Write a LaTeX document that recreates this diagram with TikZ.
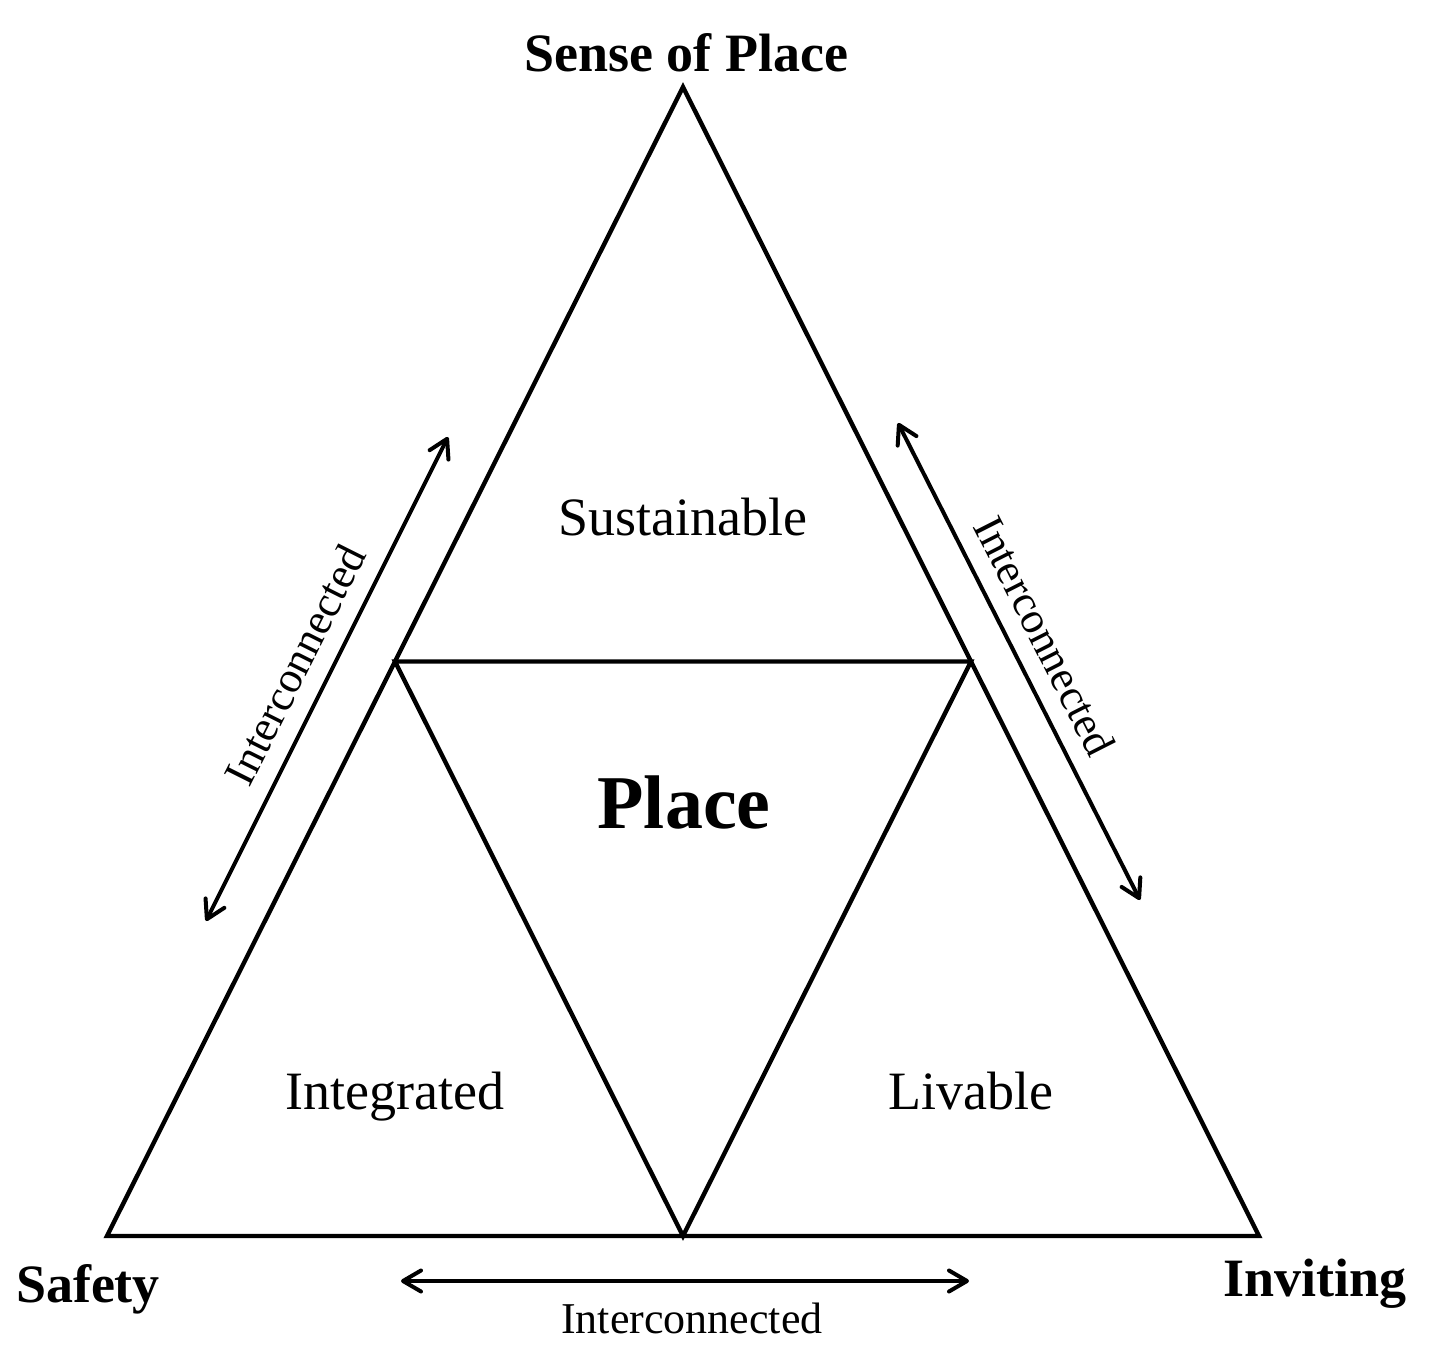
\documentclass[tikz,border=0pt]{standalone}
\usepackage{fontspec}
\setmainfont{Liberation Serif}
\usetikzlibrary{arrows.meta}
\begin{document}
\begin{tikzpicture}[x=0.5pt,y=-0.5pt,
  edge/.style={line width=2.2pt, line join=miter},
  link/.style={line width=2pt, {Straight Barb[length=9pt,width=10.5pt,line cap=round,line join=round]}-{Straight Barb[length=9pt,width=10.5pt,line cap=round,line join=round]}},
  corner/.style={font=\fontsize{27}{32}\selectfont\bfseries, anchor=base, inner sep=0pt},
  part/.style={font=\fontsize{27}{32}\selectfont, anchor=base, inner sep=0pt},
  core/.style={font=\fontsize{38}{44}\selectfont\bfseries, anchor=base, inner sep=0pt},
  linklabel/.style={font=\fontsize{22}{26}\selectfont, inner sep=0pt}
]
\useasboundingbox (0,0) rectangle (1430,1353);
% vertices
\coordinate (top) at (683,87);
\coordinate (bl) at (107,1236);
\coordinate (br) at (1259,1236);
\coordinate (ml) at (395,661.5);
\coordinate (mr) at (971,661.5);
\coordinate (mb) at (683,1236);
% triangles
\draw[edge] (top) -- (br) -- (bl) -- cycle;
\draw[edge] (ml) -- (mr) -- (mb) -- cycle;
% arrows
\coordinate (la1) at (448,437);
\coordinate (la2) at (206,921);
\coordinate (ra1) at (898,423);
\coordinate (ra2) at (1140,900);
\coordinate (ba1) at (401,1281);
\coordinate (ba2) at (969,1281);
\draw[link] (la2) -- (la1);
\draw[link] (ra1) -- (ra2);
\draw[link] (ba1) -- (ba2);
% labels
\node[corner] (sop) at (686,72) {Sense of Place};
\node[corner] (saf) at (88,1302) {Safety};
\node[corner] (inv) at (1315,1296) {Inviting};
\node[part] (sus) at (683,536) {Sustainable};
\node[part] (int) at (395,1109) {Integrated};
\node[part] (liv) at (971,1109) {Livable};
\node[core] (pl) at (684,828) {Place};
\node[linklabel, rotate=63.4] (ll) at (295,665) {Interconnected};
\node[linklabel, rotate=-63.1] (rl) at (1045,636) {Interconnected};
\node[linklabel, anchor=base] (bottoml) at (692,1333) {Interconnected};
\end{tikzpicture}
\end{document}
